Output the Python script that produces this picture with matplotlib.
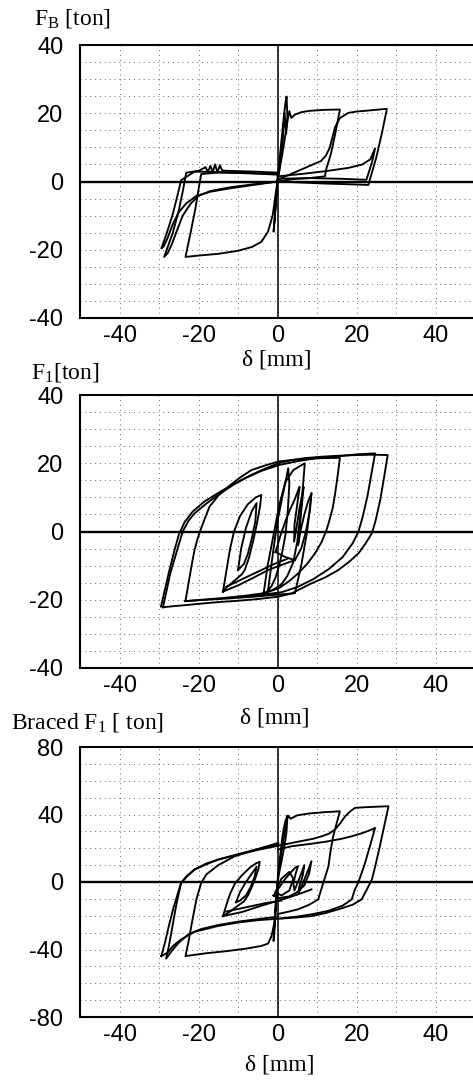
import matplotlib
matplotlib.use('Agg')
import matplotlib.pyplot as plt

# ---- panel 1 : F_B ----
fb_spike_x = [0, 0.4, 1.0, 1.6, 2.0, 2.3, 2.5, 2.2, 1.8, 1.2, 0.5, 0.0, -0.4, -0.7, -1.0, -0.8, -0.4, 0.0]
fb_spike_y = [0, 5, 12, 19, 23, 24.9, 19, 14, 20, 10, 4, 0, -6, -11, -14.7, -12, -6, 0]

fb_p16_x = [0.0, 1.5, 2.6, 3.0, 3.5, 4.4, 6.0, 8.0, 12.0, 15.8, 14.8, 13.5, 12.4, 12.0, 8.0, 4.0, 0.0]
fb_p16_y = [0.0, 10.0, 18.2, 20.6, 18.6, 19.6, 20.3, 20.7, 21.0, 21.1, 15.0, 8.0, 3.9, 1.5, 1.0, 0.7, 0.0]

fb_p28_x = [0.0, 4.0, 8.6, 11.0, 12.2, 13.2, 13.8, 14.6, 15.8, 17.9, 20.0, 23.0, 27.7, 26.4, 25.0, 23.0, 18.0, 12.0, 6.0, 0.0]
fb_p28_y = [0.5, 2.5, 4.8, 6.0, 7.5, 9.8, 12.5, 16.0, 18.6, 20.1, 20.5, 20.8, 21.3, 14.0, 7.0, -1.0, -0.8, -0.6, -0.3, 0.0]

fb_p25_x = [0.0, 6.0, 12.0, 18.0, 21.5, 23.5, 24.7, 24.0, 23.2, 22.5, 16.0, 8.0, 0.0]
fb_p25_y = [1.5, 2.2, 3.0, 4.0, 5.0, 6.5, 9.7, 6.0, 3.0, 0.5, 0.8, 1.0, 0.8]

fb_n24_x = [0.0, -5.0, -10.0, -15.0, -19.3, -19.8, -20.8, -22.0, -23.3, -20.0, -15.0, -10.0, -6.5, -4.1, -2.4, -1.2, -0.4, 0.0]
fb_n24_y = [2.0, 2.3, 2.5, 2.6, 2.2, -1.0, -8.0, -15.0, -22.1, -21.7, -21.2, -20.3, -19.2, -17.7, -14.7, -9.8, -3.0, 0.0]

fb_n28_x = [0.0, -6.0, -12.0, -14.0, -14.6, -15.2, -15.8, -16.4, -17.0, -17.6, -18.2, -20.0, -23.1, -24.0, -25.0,
            -26.5, -28.7, -27.8, -26.8, -25.5, -24.0, -22.0, -20.0, -17.0, -12.0, -6.0, 0.0]
fb_n28_y = [2.6, 2.9, 3.1, 3.2, 4.8, 2.6, 5.0, 2.8, 4.6, 2.7, 4.2, 3.1, 2.6, -3.0, -8.5,
            -15.0, -22.1, -21.0, -18.5, -14.5, -10.0, -6.5, -4.2, -2.8, -1.7, -0.8, 0.0]

fb_n30_x = [0.0, -8.0, -16.0, -21.0, -24.4, -25.3, -26.5, -28.0, -29.4, -28.8, -27.8, -26.5, -25.0, -23.0, -20.5, -17.0, -12.0, -6.0, 0.0]
fb_n30_y = [2.2, 2.5, 2.8, 2.9, 0.4, -4.0, -9.5, -15.0, -19.6, -19.0, -16.5, -12.5, -9.0, -6.3, -4.2, -3.0, -2.0, -1.0, 0.0]

# ---- panel 2 : F_1 ----
f1_outer_x = [-29.0, -28.2, -27.2, -25.8, -24.0, -22.5, -21.0, -18.0, -15.1, -11.0, -6.6, -3.0, 0.2, 3.5, 6.9, 11.0, 15.4, 20.0,
              24.0, 27.9, 27.0, 26.0, 24.8, 23.9, 22.3, 20.5, 18.0, 15.4, 12.0, 8.6, 5.5, 3.5, 0.2, -5.0, -10.0, -15.1,
              -20.0, -23.5, -26.5, -29.0]
f1_outer_y = [-22.2, -18.0, -12.5, -7.0, 0.0, 3.2, 5.3, 8.2, 10.7, 13.8, 16.6, 18.5, 20.0, 20.9, 21.5, 21.9, 22.2, 22.4,
              22.5, 22.4, 16.0, 9.2, 3.0, -0.5, -3.5, -6.4, -9.0, -11.3, -13.5, -15.2, -17.0, -18.2, -19.1, -19.8, -20.3, -20.7,
              -21.2, -21.6, -21.9, -22.2]

f1_second_x = [-29.5, -28.8, -27.5, -26.2, -25.0, -23.5, -21.5, -18.5, -14.0, -9.0, -4.0, 0.5, 5.0, 10.0, 15.0, 20.0, 24.7,
               23.8, 22.8, 21.5, 20.5, 19.0, 16.5, 13.0, 9.0, 5.0, 1.0, -3.0, -8.0]
f1_second_y = [-22.0, -18.5, -12.0, -6.0, -1.0, 2.8, 5.8, 8.8, 12.0, 15.2, 17.8, 19.5, 20.6, 21.5, 22.0, 22.6, 22.9,
               17.0, 10.5, 4.0, 0.0, -3.5, -7.5, -11.0, -14.0, -16.3, -17.8, -18.4, -19.0]

f1_mid_x = [-23.3, -22.5, -21.6, -21.0, -20.2, -19.5, -18.5, -17.2, -15.0, -12.5, -9.5, -6.6, -3.0, 0.2, 4.0, 8.6, 12.0, 15.8,
            15.3, 14.6, 14.0, 13.2, 12.4, 11.2, 9.5, 7.5, 5.2, 3.0, 0.5, -3.0, -8.0, -13.0, -18.0, -23.3]
f1_mid_y = [-20.4, -15.0, -9.0, -5.4, -2.0, 0.4, 3.5, 7.3, 10.5, 13.1, 15.8, 18.0, 19.4, 20.5, 21.0, 21.4, 21.5, 21.6,
            17.0, 11.2, 7.0, 3.5, 0.4, -3.0, -6.4, -9.5, -12.3, -14.5, -16.5, -18.0, -18.8, -19.4, -19.9, -20.4]

f1_drop_x = [8.6, 7.5, 6.0, 4.4, 0.0, -5.0, -12.0, -18.0, -23.3]
f1_drop_y = [11.2, 0.0, -10.0, -18.1, -18.5, -19.0, -19.6, -20.0, -20.4]

f1_lens_x = [-13.8, -13.0, -12.0, -11.0, -9.5, -7.5, -5.5, -4.1, -4.4, -5.2, -6.2, -7.3, -8.3, -9.0, -10.0, -11.5, -13.0, -13.8]
f1_lens_y = [-17.6, -12.0, -5.0, 0.0, 4.5, 8.0, 10.0, 10.7, 7.5, 2.4, -3.0, -8.0, -11.3, -12.5, -13.5, -15.0, -16.5, -17.6]

f1_inner_x = [-10.0, -9.2, -8.0, -6.5, -5.3, -5.6, -6.5, -7.5, -8.5, -10.0]
f1_inner_y = [-11.3, -5.0, 1.0, 6.0, 8.3, 3.0, -2.0, -6.5, -9.5, -11.3]

f1_low_x = [-13.8, -10.0, -6.0, -2.4, 1.0, 4.4]
f1_low_y = [-17.6, -15.8, -13.5, -11.3, -9.8, -8.4]
f1_low2_x = [-13.0, -9.0, -5.0, -1.0, 2.5]
f1_low2_y = [-16.2, -14.0, -11.8, -9.6, -8.0]

f1_c_x = [-2.4, -1.8, -1.0, 0.0, 1.2, 2.2, 2.7, 3.0, 2.6, 2.0, 1.2, 0.4, -0.5, -1.5, -2.4]
f1_c_y = [-17.2, -12.0, -5.0, 3.0, 10.0, 15.5, 18.5, 14.0, 6.0, -1.0, -6.0, -10.0, -13.5, -16.0, -17.2]

f1_m_x = [-0.5, 0.8, 2.0, 3.2, 4.4, 5.2, 5.6, 5.0, 4.3, 4.2, 4.8, 5.6, 6.3, 6.6, 6.2, 5.6, 5.2, 5.8, 6.8, 7.8, 8.6, 8.2,
          7.2, 6.0, 4.4, 2.0, -0.5]
f1_m_y = [-6.0, -1.0, 3.0, 6.5, 9.5, 12.0, 13.1, 8.0, 2.0, -3.0, 1.0, 7.0, 11.0, 13.1, 8.0, 1.0, -4.0, 0.0, 5.0, 9.0, 11.2, 6.0,
          0.0, -5.0, -8.4, -7.5, -6.0]

f1_p7_x = [-3.5, -2.5, -1.0, 0.5, 2.0, 4.0, 6.9, 6.5, 5.8, 5.0, 4.0, 2.5, 1.0, -1.0, -3.5]
f1_p7_y = [-18.0, -10.0, -1.0, 8.0, 14.5, 18.0, 20.0, 14.0, 5.0, -3.0, -9.0, -13.0, -15.5, -17.0, -18.0]

# ---- panel 3 : braced F_1 ----
br_outer_x = [-29.4, -28.5, -27.5, -26.3, -25.0, -24.4, -23.0, -21.0, -18.0, -15.0, -10.0, -5.0, 0.2, 5.0, 9.0, 11.2, 13.0,
              14.5, 15.8, 17.1, 18.5, 19.6, 22.0, 25.0, 28.1, 27.0, 25.8, 24.6, 23.9, 22.5, 21.3, 19.0, 15.4, 12.0, 8.6,
              5.0, 1.9, -4.9, -10.0, -15.1, -21.0, -24.4, -26.5, -27.8, -29.4]
br_outer_y = [-43.9, -36.0, -26.0, -15.0, -5.0, -0.5, 3.5, 7.4, 11.0, 13.3, 16.2, 19.0, 21.5, 23.8, 25.6, 27.1, 28.6,
              31.0, 34.5, 38.9, 42.0, 43.9, 44.3, 44.6, 44.9, 33.0, 20.0, 8.0, 1.5, -5.0, -10.3, -13.5, -16.2, -18.5, -20.2,
              -21.0, -21.5, -22.6, -24.0, -26.1, -29.5, -34.0, -38.0, -41.8, -43.9]

br_n24_x = [0.0, -0.4, -0.8, -1.5, -2.4, -4.1, -8.0, -13.0, -18.0, -23.3, -22.5, -21.5, -20.5, -19.3, -18.0, -15.0, -10.8, -5.0, 0.2]
br_n24_y = [0.0, -12.0, -24.1, -32.0, -36.5, -37.9, -39.5, -41.0, -42.2, -43.9, -35.0, -22.0, -10.0, -0.5, 4.5, 10.0, 15.3, 19.5, 23.2]

br_n30_x = [0.2, -5.0, -10.0, -15.0, -19.5, -22.5, -24.8, -26.5, -28.2, -27.5, -26.5, -25.5, -24.4, -22.8, -21.0, -18.0,
            -15.0, -10.0, -5.0, 0.2]
br_n30_y = [-20.5, -22.0, -23.5, -25.5, -28.0, -31.0, -35.5, -40.0, -45.4, -38.0, -25.0, -12.0, -0.5, 3.5, 7.4, 10.5,
            13.3, 16.5, 19.5, 22.5]

br_p25_x = [0.2, 3.6, 8.0, 12.0, 16.0, 18.8, 21.5, 23.9, 24.7, 23.5, 22.0, 20.5, 19.5, 18.8, 16.5, 13.0, 9.0, 5.0, 1.0]
br_p25_y = [19.3, 21.2, 22.5, 23.8, 25.5, 27.1, 29.0, 31.1, 32.1, 22.0, 10.0, 0.0, -5.0, -10.3, -14.0, -17.0, -19.0, -20.5, -21.5]

br_p16_x = [0.5, 1.5, 2.3, 2.7, 3.3, 5.0, 8.0, 12.0, 15.8, 15.0, 14.1, 13.4, 12.9, 12.2, 11.6, 10.3, 8.0, 5.2, 2.0, 0.0]
br_p16_y = [10.0, 25.0, 36.0, 39.3, 37.5, 39.5, 40.6, 41.4, 41.9, 35.0, 27.1, 18.0, 9.4, 4.0, -0.4, -10.3, -13.5, -16.2, -18.0, -19.0]

br_lens_x = [-13.8, -13.0, -12.0, -10.8, -9.0, -7.0, -5.5, -4.5, -4.8, -5.5, -6.5, -7.5, -8.5, -10.0, -12.0, -13.8]
br_lens_y = [-20.2, -14.0, -7.0, -1.0, 4.0, 8.5, 11.0, 12.0, 8.0, 3.0, -3.0, -8.0, -11.5, -14.0, -17.5, -20.2]

br_inner_x = [-10.5, -9.5, -8.0, -6.5, -5.3, -5.8, -6.8, -8.0, -9.5, -10.5]
br_inner_y = [-12.0, -6.0, 0.0, 5.0, 9.0, 3.0, -3.0, -8.0, -11.0, -12.0]

br_low_x = [-13.8, -9.0, -4.0, 1.0, 5.0, 8.6]
br_low_y = [-20.2, -17.8, -14.0, -10.5, -7.5, -4.4]
br_low2_x = [-13.0, -8.0, -3.0, 1.0]
br_low2_y = [-17.5, -15.0, -12.5, -11.0]

br_m_x = [-1.0, 0.5, 2.0, 3.5, 4.5, 5.2, 4.6, 4.0, 4.3, 5.0, 6.0, 6.8, 6.4, 5.5, 5.3, 6.2, 7.4, 8.6, 8.0, 6.8, 5.0, 3.0, 0.5, -1.0]
br_m_y = [-8.0, -3.0, 2.0, 6.0, 8.5, 9.4, 5.0, -1.0, -5.0, -1.0, 5.0, 10.0, 4.0, -3.0, -7.0, -2.0, 5.0, 12.3, 5.0, -2.0, -6.0, -8.5, -9.5, -8.0]

br_small_x = [-0.5, 1.0, 3.0, 4.0, 3.0, 1.0, -0.5]
br_small_y = [-6.0, 2.0, 6.0, 2.0, -5.0, -8.0, -6.0]

br_spike_x = [0, 0.3, 0.8, 1.2, 1.6, 2.0, 2.5, 2.3, 1.8, 1.0, 0.3, -0.3, -0.6, -0.8, -1.0, -0.7, -0.3, 0.0]
br_spike_y = [0, 8, 18, 26, 32, 36, 39.3, 30, 22, 12, 4, -8, -18, -28, -35, -25, -12, 0]

x_ticks = [-40, -20, 0, 20, 40]
fb_yticks = [-40, -20, 0, 20, 40]
f1_yticks = [-40, -20, 0, 20, 40]
br_yticks = [-80, -40, 0, 40, 80]

fb_curves = [(fb_spike_x, fb_spike_y), (fb_p16_x, fb_p16_y), (fb_p28_x, fb_p28_y), (fb_p25_x, fb_p25_y),
             (fb_n24_x, fb_n24_y), (fb_n28_x, fb_n28_y), (fb_n30_x, fb_n30_y)]
f1_curves = [(f1_outer_x, f1_outer_y), (f1_second_x, f1_second_y), (f1_mid_x, f1_mid_y), (f1_drop_x, f1_drop_y),
             (f1_lens_x, f1_lens_y), (f1_inner_x, f1_inner_y), (f1_low_x, f1_low_y), (f1_low2_x, f1_low2_y),
             (f1_c_x, f1_c_y), (f1_m_x, f1_m_y), (f1_p7_x, f1_p7_y)]
br_curves = [(br_outer_x, br_outer_y), (br_n24_x, br_n24_y), (br_n30_x, br_n30_y), (br_p25_x, br_p25_y),
             (br_p16_x, br_p16_y), (br_lens_x, br_lens_y), (br_inner_x, br_inner_y), (br_low_x, br_low_y),
             (br_low2_x, br_low2_y), (br_m_x, br_m_y), (br_small_x, br_small_y), (br_spike_x, br_spike_y)]

plt.rcParams['axes.unicode_minus'] = False
plt.rcParams['mathtext.fontset'] = 'custom'
plt.rcParams['mathtext.rm'] = 'Liberation Serif'
plt.rcParams['mathtext.it'] = 'Liberation Serif:italic'

W, H = 473, 1083
fig = plt.figure(figsize=(W / 100, H / 100), dpi=100)


def make_axes(top, bottom):
    return fig.add_axes([80 / W, 1 - bottom / H, (475 - 80) / W, (bottom - top) / H])


def draw_panel(ax, curves, yticks, ystep):
    lim = yticks[-1]
    for xs, ys in curves:
        ax.plot(xs, ys, color='black', lw=1.35, solid_joinstyle='round')
    ax.set_xlim(-50, 50)
    ax.set_ylim(-lim, lim)
    ax.set_xticks(x_ticks)
    ax.set_yticks(yticks)
    ax.set_xticks(range(-40, 50, 10), minor=True)
    ax.set_yticks(range(-lim + ystep, lim, ystep), minor=True)
    ax.grid(which='both', color='0.4', linestyle=(0, (1, 4)), lw=0.7)
    ax.axhline(0, color='black', lw=1.7)
    ax.axvline(0, color='black', lw=1.1)
    ax.tick_params(which='both', length=0)
    ax.tick_params(axis='y', pad=12, labelsize=17)
    ax.tick_params(axis='x', pad=5, labelsize=17)
    for lab in ax.get_xticklabels() + ax.get_yticklabels():
        lab.set_family('Liberation Sans')
    for s in ax.spines.values():
        s.set_linewidth(1.5)


ax1 = make_axes(45, 318)
draw_panel(ax1, fb_curves, fb_yticks, 5)
ax2 = make_axes(395, 668)
draw_panel(ax2, f1_curves, f1_yticks, 5)
ax3 = make_axes(747, 1017)
draw_panel(ax3, br_curves, br_yticks, 10)

serif = 'Liberation Serif'
fs = 17
fig.text(34 / W, 1 - 18 / H, r'F$_{\mathrm{B}}$ [ton]', family=serif, fontsize=fs, va='center', ha='left')
fig.text(277 / W, 1 - 360 / H, 'δ [mm]', family=serif, fontsize=fs, va='center', ha='center')
fig.text(31 / W, 1 - 373 / H, r'F$_{\mathrm{1}}$[ton]', family=serif, fontsize=fs, va='center', ha='left')
fig.text(275 / W, 1 - 718 / H, 'δ [mm]', family=serif, fontsize=fs, va='center', ha='center')
fig.text(11 / W, 1 - 723 / H, r'Braced F$_{\mathrm{1}}$ [ ton]', family=serif, fontsize=fs, va='center', ha='left')
fig.text(280 / W, 1 - 1065 / H, 'δ [mm]', family=serif, fontsize=fs, va='center', ha='center')

fig.savefig('out.png', dpi=100)
